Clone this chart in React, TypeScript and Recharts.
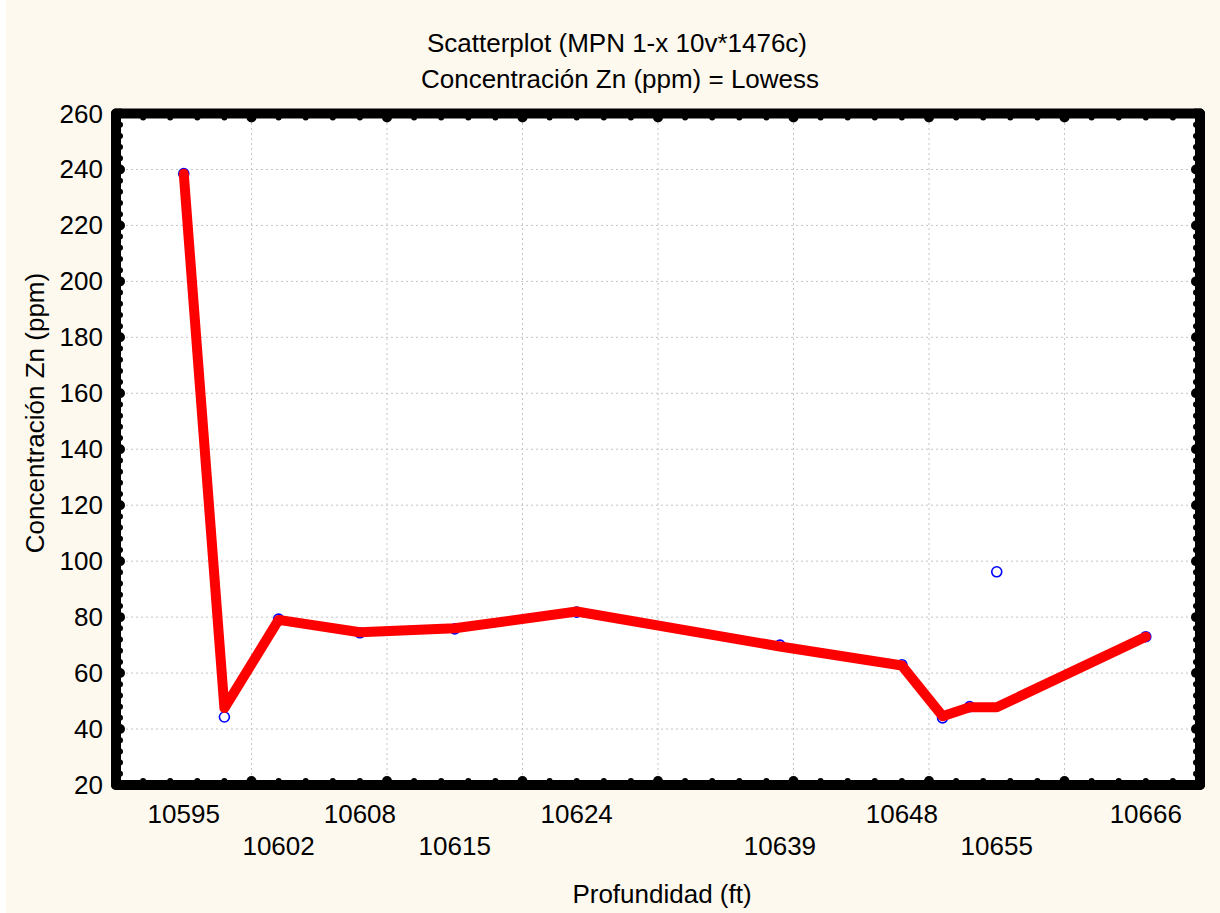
import React from "react";
import {
  ComposedChart,
  XAxis,
  YAxis,
  Line,
  CartesianGrid,
  ReferenceLine,
} from "recharts";

// depth (ft) of each sample, Zn concentration and the lowess fit
const depths = [10595, 10598, 10602, 10608, 10615, 10624, 10639, 10648, 10651, 10653, 10655, 10666];
const znValues = [238.5, 44.3, 79.3, 74.4, 75.8, 81.8, 70, 63, 44, 48, 96.2, 73];
const lowessValues = [238.5, 47.5, 79, 74.6, 76, 82, 69.5, 62.7, 44.6, 47.8, 47.8, 73];

// tick labels
const depthLabels = [10595, 10602, 10608, 10615, 10624, 10639, 10648, 10655, 10666];
const znLabels = [20, 40, 60, 80, 100, 120, 140, 160, 180, 200, 220, 240, 260];

// tick dots on the frame
const depthDots = [
  10590, 10592, 10594, 10596, 10598, 10600, 10602, 10604, 10606, 10608, 10610,
  10612, 10614, 10616, 10618, 10620, 10622, 10624, 10626, 10628, 10630,
  10632, 10634, 10636, 10638, 10640, 10642, 10644, 10646, 10648, 10650,
  10652, 10654, 10656, 10658, 10660, 10662, 10664, 10666, 10668, 10670,
];
const znDots = [
  20, 24, 28, 32, 36, 40, 44, 48, 52, 56, 60, 64, 68, 72, 76, 80, 84, 88, 92, 96,
  100, 104, 108, 112, 116, 120, 124, 128, 132, 136, 140, 144, 148, 152, 156, 160,
  164, 168, 172, 176, 180, 184, 188, 192, 196, 200, 204, 208, 212, 216, 220, 224,
  228, 232, 236, 240, 244, 248, 252, 256, 260,
];

// dotted grid
const depthGrid = [10600, 10610, 10620, 10630, 10640, 10650, 10660];
const znGrid = [40, 60, 80, 100, 120, 140, 160, 180, 200, 220, 240];

const data = depths.map((d, i) => ({ depth: d, zn: znValues[i], lowess: lowessValues[i] }));
const bottomTicks = Array.from(new Set([...depthDots, ...depthLabels])).sort((a, b) => a - b);

const FONT = "'Liberation Sans', Arial, sans-serif";
const frame = { stroke: "#000", strokeWidth: 10, strokeLinecap: "round" as const };

const BottomTick = (props: any) => {
  const { x, y, payload } = props;
  const v = payload.value;
  const li = depthLabels.indexOf(v);
  return (
    <g>
      {depthDots.includes(v) && (
        <circle cx={x} cy={y - 4} r={v % 10 === 0 ? 5 : 3} fill="#000" />
      )}
      {li >= 0 && (
        <text x={x} y={y + (li % 2 === 0 ? 38 : 70)} textAnchor="middle" fontSize={26} fontFamily={FONT} fill="#000">
          {v}
        </text>
      )}
    </g>
  );
};

const TopTick = (props: any) => {
  const { x, y, payload } = props;
  return <circle cx={x} cy={y + 4} r={payload.value % 10 === 0 ? 5 : 3} fill="#000" />;
};

const LeftTick = (props: any) => {
  const { x, y, payload } = props;
  const v = payload.value;
  return (
    <g>
      <circle cx={x + 4} cy={y} r={v % 20 === 0 ? 5 : 3} fill="#000" />
      {znLabels.includes(v) && (
        <text x={x - 13} y={y} dy={9} textAnchor="end" fontSize={26} fontFamily={FONT} fill="#000">
          {v}
        </text>
      )}
    </g>
  );
};

const RightTick = (props: any) => {
  const { x, y, payload } = props;
  return <circle cx={x - 4} cy={y} r={payload.value % 20 === 0 ? 5 : 3} fill="#000" />;
};

const Ring = (props: any) => {
  if (props.cx == null || props.cy == null) return null;
  return <circle key={props.index} cx={props.cx} cy={props.cy} r={5} fill="none" stroke="#0000ff" strokeWidth={1.6} />;
};

export default function App() {
  const lowessExtra: any = { zIndex: 1200 };
  return (
    <div style={{ position: "relative", width: 1220, height: 913, background: "#fff" }}>
      <style>{"body{margin:0}"}</style>
      <div style={{ position: "absolute", left: 6, top: 0, width: 1214, height: 913, background: "#fef9ee" }}>
        <ComposedChart
          width={1214}
          height={913}
          data={data}
          margin={{ top: 103.5, right: 10, bottom: 28, left: 10 }}
        >
          <CartesianGrid xAxisId="bottom" yAxisId="left" horizontal={false} vertical={false} fill="#fff" fillOpacity={1} />
          {depthGrid.map((g) => (
            <ReferenceLine key={"x" + g} x={g} xAxisId="bottom" yAxisId="left" stroke="#c4c4c4" strokeDasharray="2 3" />
          ))}
          {znGrid.map((g) => (
            <ReferenceLine key={"y" + g} y={g} xAxisId="bottom" yAxisId="left" stroke="#c4c4c4" strokeDasharray="2 3" />
          ))}
          <XAxis
            xAxisId="bottom"
            dataKey="depth"
            type="number"
            domain={[10590, 10670]}
            ticks={bottomTicks}
            interval={0}
            height={100}
            tickSize={0}
            tickMargin={0}
            tickLine={false}
            axisLine={frame}
            tick={<BottomTick />}
          />
          <XAxis
            xAxisId="top"
            orientation="top"
            dataKey="depth"
            type="number"
            domain={[10590, 10670]}
            ticks={depthDots}
            interval={0}
            height={10}
            tickSize={0}
            tickMargin={0}
            tickLine={false}
            axisLine={frame}
            tick={<TopTick />}
          />
          <YAxis
            yAxisId="left"
            type="number"
            domain={[20, 260]}
            ticks={znDots}
            interval={0}
            width={100}
            tickSize={0}
            tickMargin={0}
            tickLine={false}
            axisLine={frame}
            tick={<LeftTick />}
          />
          <YAxis
            yAxisId="right"
            orientation="right"
            type="number"
            domain={[20, 260]}
            ticks={znDots}
            interval={0}
            width={10}
            tickSize={0}
            tickMargin={0}
            tickLine={false}
            axisLine={frame}
            tick={<RightTick />}
          />
          <Line
            xAxisId="bottom"
            yAxisId="left"
            dataKey="zn"
            stroke="none"
            strokeWidth={0}
            dot={<Ring />}
            activeDot={false}
            isAnimationActive={false}
          />
          <Line
            xAxisId="top"
            yAxisId="right"
            dataKey="lowess"
            type="linear"
            stroke="#ff0000"
            strokeWidth={10}
            strokeLinejoin="round"
            strokeLinecap="round"
            dot={false}
            activeDot={false}
            isAnimationActive={false}
            {...lowessExtra}
          />
        </ComposedChart>
      </div>
      <svg width={1220} height={913} style={{ position: "absolute", left: 0, top: 0, pointerEvents: "none" }}>
        <g fontFamily={FONT} fontSize={26} fill="#000">
          <text x={617} y={52} textAnchor="middle">Scatterplot (MPN 1-x 10v*1476c)</text>
          <text x={620} y={88} textAnchor="middle">Concentración Zn (ppm) = Lowess</text>
          <text x={662} y={903} textAnchor="middle">Profundidad (ft)</text>
          <text x={44} y={413} textAnchor="middle" transform="rotate(-90 44 413)">Concentración Zn (ppm)</text>
        </g>
      </svg>
    </div>
  );
}
